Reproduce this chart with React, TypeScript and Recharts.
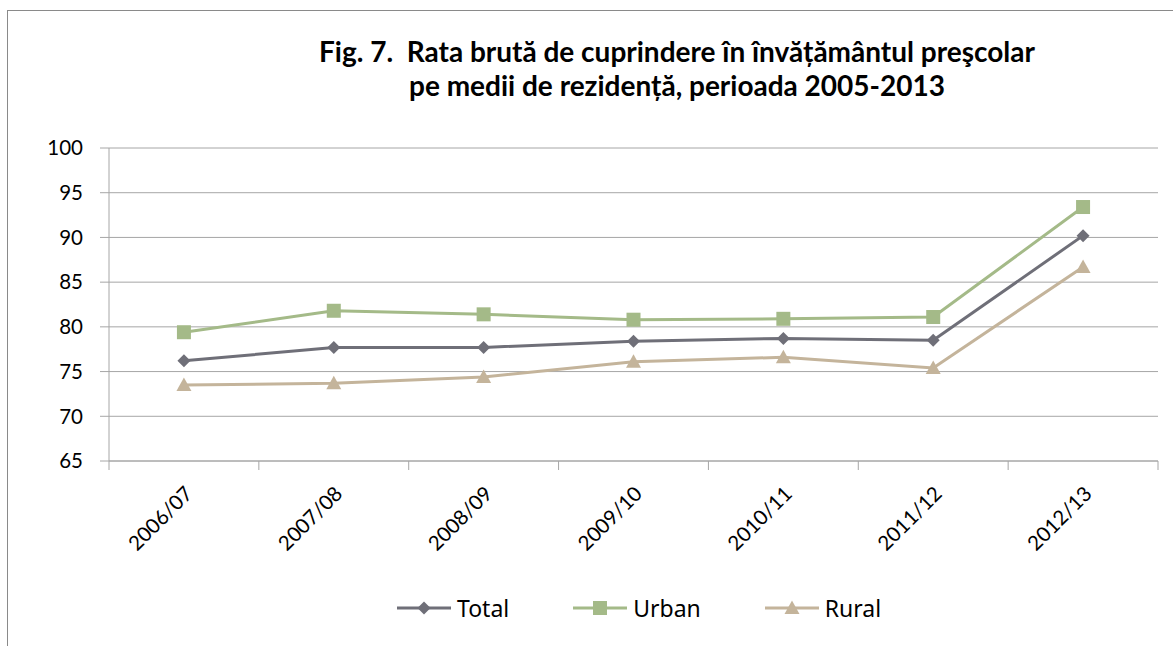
import React from 'react';
import { LineChart, Line, XAxis, YAxis, CartesianGrid, Legend } from 'recharts';

const categories = ['2006/07', '2007/08', '2008/09', '2009/10', '2010/11', '2011/12', '2012/13'];
const totalValues = [76.2, 77.7, 77.7, 78.4, 78.7, 78.5, 90.2];
const urbanValues = [79.4, 81.8, 81.4, 80.8, 80.9, 81.1, 93.4];
const ruralValues = [73.5, 73.7, 74.4, 76.1, 76.6, 75.4, 86.7];
const yTicks = [65, 70, 75, 80, 85, 90, 95, 100];
const titleLines = [
  'Fig. 7.  Rata brută de cuprindere în învățământul preşcolar',
  'pe medii de rezidență, perioada 2005-2013',
];
const seriesNames = ['Total', 'Urban', 'Rural'];

const COLORS = { Total: '#6f6f78', Urban: '#a4ba88', Rural: '#c4b49b' };
const GRID = '#a6a6a6';

const data = categories.map((c, i) => ({
  i,
  cat: c,
  Total: totalValues[i],
  Urban: urbanValues[i],
  Rural: ruralValues[i],
}));

const xTicks: number[] = [];
for (let k = 0; k <= categories.length * 2; k++) xTicks.push(k / 2 - 0.5);

const Marker = ({ name, cx, cy }: { name: string; cx: number; cy: number }) => {
  const color = (COLORS as any)[name];
  if (name === 'Total') {
    return <polygon points={`${cx},${cy - 6.5} ${cx + 6.5},${cy} ${cx},${cy + 6.5} ${cx - 6.5},${cy}`} fill={color} />;
  }
  if (name === 'Urban') {
    return <rect x={cx - 7} y={cy - 7} width={14} height={14} fill={color} />;
  }
  return <polygon points={`${cx},${cy - 7.5} ${cx + 7.5},${cy + 6} ${cx - 7.5},${cy + 6}`} fill={color} />;
};

const makeDot = (name: string) => (props: any) => {
  const { cx, cy, index } = props;
  if (cx == null || cy == null) return <g key={`${name}-${index}`} />;
  return (
    <g key={`${name}-${index}`}>
      <Marker name={name} cx={cx} cy={cy} />
    </g>
  );
};

const XTick = (props: any) => {
  const { x, y, payload } = props;
  const v = payload.value as number;
  if (Number.isInteger(v)) {
    const tx = x + 10;
    const ty = y + 34;
    return (
      <text
        x={tx}
        y={ty}
        textAnchor="end"
        transform={`rotate(-45, ${tx}, ${ty})`}
        fontFamily="Lato, 'Noto Sans', sans-serif"
        fontSize={20.5}
        fill="#000"
      >
        {categories[v]}
      </text>
    );
  }
  return <line x1={x} y1={y} x2={x} y2={y + 9} stroke={GRID} strokeWidth={1} />;
};

const renderLegend = () => (
  <div style={{ display: 'flex', alignItems: 'center', marginLeft: 397, height: 24 }}>
    {seriesNames.map((n) => (
      <div key={n} style={{ display: 'flex', alignItems: 'center', marginRight: 64 }}>
        <svg width={54} height={20}>
          <line x1={0} y1={10} x2={54} y2={10} stroke={(COLORS as any)[n]} strokeWidth={3} />
          <Marker name={n} cx={27} cy={10} />
        </svg>
        <span
          style={{
            marginLeft: 6,
            fontFamily: "'Noto Sans', sans-serif",
            fontSize: 23,
            color: '#000',
            lineHeight: '24px',
          }}
        >
          {n}
        </span>
      </div>
    ))}
  </div>
);

export default function App() {
  return (
    <div style={{ position: 'absolute', left: 0, top: 0, width: 1173, height: 646, background: '#fff' }}>
      <div
        style={{
          position: 'absolute',
          left: 7,
          top: 10,
          width: 1300,
          height: 700,
          borderLeft: '1px solid #8a8a8a',
          borderTop: '1px solid #8a8a8a',
        }}
      />
      <div
        style={{
          position: 'absolute',
          left: 177,
          top: 34,
          width: 1000,
          textAlign: 'center',
          fontFamily: "Lato, 'Noto Sans', sans-serif",
          fontWeight: 700,
          fontSize: 28,
          lineHeight: '34px',
          color: '#000',
          whiteSpace: 'pre',
        }}
      >
        {titleLines.map((t) => (
          <div key={t}>{t}</div>
        ))}
      </div>
      <div style={{ position: 'absolute', left: 0, top: 0 }}>
        <LineChart
          width={1173}
          height={646}
          data={data}
          margin={{ top: 148, right: 15, bottom: 85, left: 29 }}
        >
          <CartesianGrid horizontal vertical={false} stroke={GRID} strokeWidth={1} />
          <XAxis
            dataKey="i"
            type="number"
            domain={[-0.5, categories.length - 0.5]}
            ticks={xTicks}
            interval={0}
            tickSize={0}
            tickMargin={0}
            tickLine={false}
            axisLine={{ stroke: GRID, strokeWidth: 1 }}
            tick={<XTick />}
            height={100}
          />
          <YAxis
            type="number"
            domain={[65, 100]}
            ticks={yTicks}
            interval={0}
            width={80}
            tickSize={9}
            tickMargin={17}
            tickLine={{ stroke: GRID }}
            axisLine={{ stroke: GRID }}
            tick={{ fill: '#000', fontSize: 20.5, fontFamily: "Lato, 'Noto Sans', sans-serif" }}
          />
          {seriesNames.map((n) => (
            <Line
              key={n}
              type="linear"
              dataKey={n}
              stroke={(COLORS as any)[n]}
              strokeWidth={3}
              dot={makeDot(n)}
              activeDot={false}
              isAnimationActive={false}
            />
          ))}
          <Legend
            content={renderLegend}
            wrapperStyle={{ position: 'absolute', left: 0, top: 596, width: 1173, height: 0, overflow: 'visible' }}
          />
        </LineChart>
      </div>
    </div>
  );
}
